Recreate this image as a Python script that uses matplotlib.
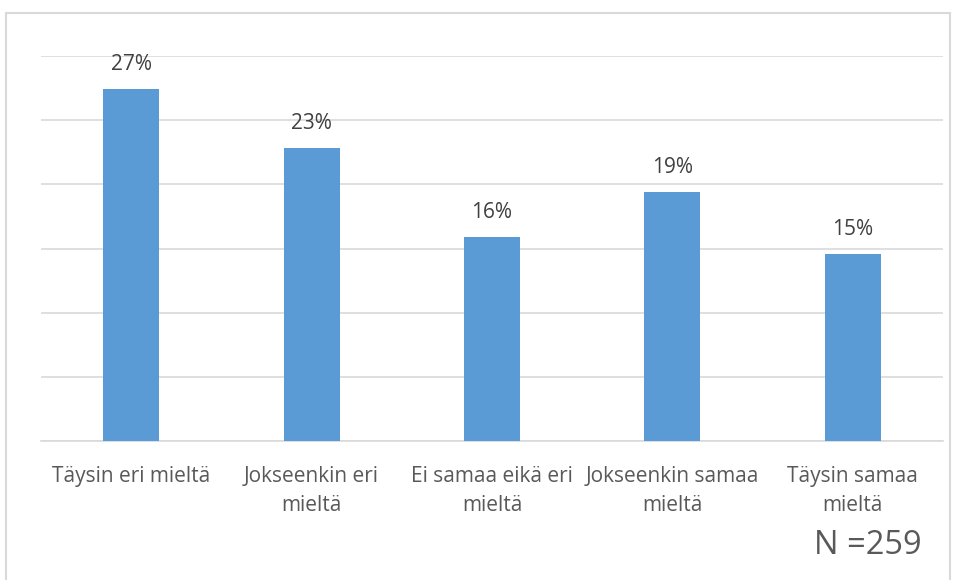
import matplotlib
matplotlib.use('Agg')
import matplotlib.pyplot as plt
from matplotlib.patches import Rectangle
import numpy as np

plt.rcParams['font.family'] = ['Open Sans', 'DejaVu Sans']

# data
categories = ['Täysin eri mieltä', 'Jokseenkin eri\nmieltä', 'Ei samaa eikä eri\nmieltä',
              'Jokseenkin samaa\nmieltä', 'Täysin samaa\nmieltä']
shares = [27.4, 22.8, 15.9, 19.4, 14.6]
n_text = 'N =259'

BAR = '#5B9BD5'
GRID = '#d9d9d9'
LABEL = '#595959'
VALUE = '#404040'

fig = plt.figure(figsize=(9.57, 5.80), dpi=100)
fig.patch.set_facecolor('white')

# outer chart border
fig.patches.append(Rectangle((6 / 957, -0.05), 944 / 957, (580 - 13) / 580 + 0.05,
                             transform=fig.transFigure, fill=False, edgecolor=GRID,
                             linewidth=1.5, zorder=0))

ax = fig.add_axes([41 / 957, 139 / 580, 902 / 957, 385 / 580])
x = np.arange(len(categories))
bars = ax.bar(x, shares, width=0.31, color=BAR, zorder=3)

for bar, v in zip(bars, shares):
    ax.text(bar.get_x() + bar.get_width() / 2, v + 1.1, f'{v:.0f}%',
            ha='center', va='bottom', fontsize=15, color=VALUE)

ax.set_xlim(-0.5, len(categories) - 0.5)
ax.set_ylim(0, 30)
ax.set_yticks(np.arange(0, 31, 5))
ax.set_yticklabels([])
ax.tick_params(axis='y', length=0)
ax.tick_params(axis='x', length=0, pad=18)
ax.set_xticks(x)
ax.set_xticklabels(categories, fontsize=15, color=LABEL, linespacing=1.5, va='top')
ax.grid(axis='y', color=GRID, linewidth=1.2, zorder=0)
for s in ['top', 'right', 'left']:
    ax.spines[s].set_visible(False)
ax.spines['bottom'].set_color(GRID)
ax.spines['bottom'].set_linewidth(1.2)

fig.text(868 / 957, 1 - 546 / 580, n_text, ha='center', va='center', fontsize=23.5, color=LABEL)

fig.savefig('out.png', dpi=100, facecolor='white')
